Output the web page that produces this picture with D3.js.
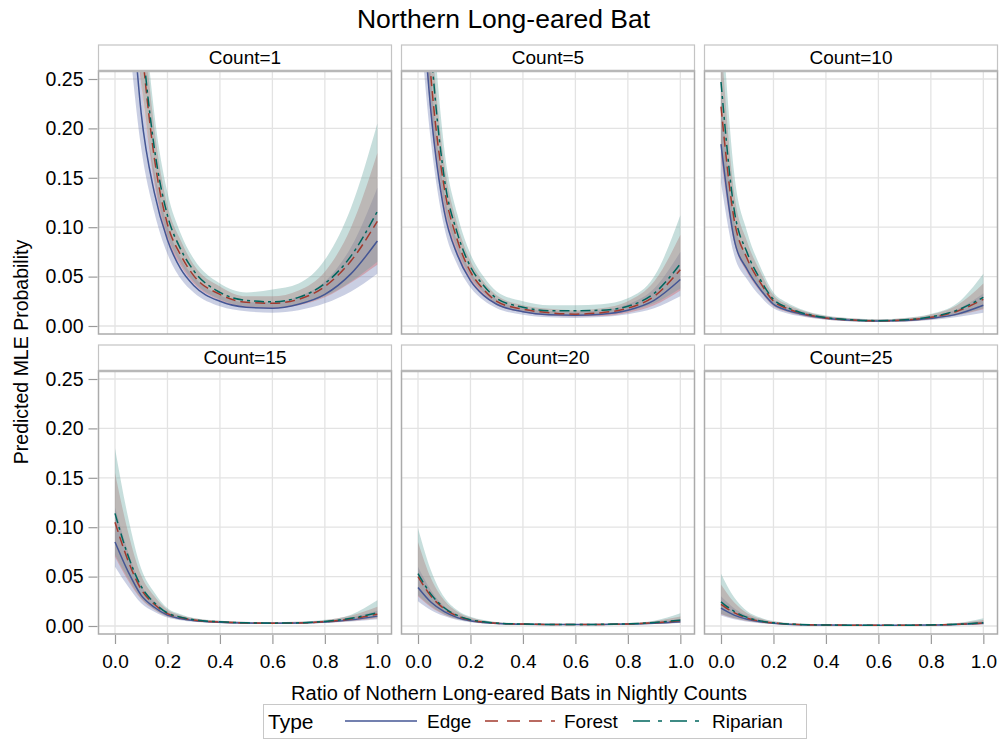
<!DOCTYPE html>
<html><head><meta charset="utf-8">
<script src="https://cdn.jsdelivr.net/npm/d3@7"></script>
<style>
html,body{margin:0;padding:0;background:#fff;}
svg{display:block;font-family:"Liberation Sans",Arial,sans-serif;}
</style></head>
<body><svg id="chart" width="1000" height="739"></svg>
<script>
// ---------------- data ----------------
const xVals = [0, 0.05, 0.1, 0.15, 0.2, 0.25, 0.3, 0.4, 0.5, 0.6, 0.7, 0.8, 0.9, 1.0];
const panelLabels = ["Count=1", "Count=5", "Count=10", "Count=15", "Count=20", "Count=25"];
const typeNames = ["Edge", "Forest", "Riparian"];
const xTicks = [0, 0.2, 0.4, 0.6, 0.8, 1.0];
const yTicks = [0, 0.05, 0.10, 0.15, 0.20, 0.25];

// predicted probability, one row per panel
const edgeFit = [
  [0.58, 0.38, 0.215, 0.135, 0.087, 0.058, 0.041, 0.025, 0.019, 0.018, 0.022, 0.032, 0.053, 0.086],
  [0.39, 0.215, 0.116, 0.072, 0.046, 0.031, 0.022, 0.0145, 0.0115, 0.011, 0.012, 0.016, 0.026, 0.047],
  [0.184, 0.088, 0.057, 0.037, 0.022, 0.016, 0.0125, 0.0078, 0.0058, 0.005, 0.0055, 0.0078, 0.012, 0.021],
  [0.085, 0.055, 0.031, 0.019, 0.011, 0.0075, 0.0055, 0.0038, 0.003, 0.0027, 0.003, 0.004, 0.0062, 0.010],
  [0.039, 0.024, 0.0145, 0.0085, 0.0052, 0.0035, 0.0025, 0.0018, 0.0015, 0.0014, 0.0015, 0.0019, 0.0028, 0.0044],
  [0.018, 0.011, 0.0068, 0.0042, 0.0027, 0.0018, 0.0013, 0.0009, 0.0007, 0.0007, 0.0007, 0.0009, 0.0015, 0.0027]
];
const forestFit = [
  [0.70, 0.46, 0.29, 0.17, 0.103, 0.072, 0.051, 0.032, 0.024, 0.023, 0.027, 0.040, 0.066, 0.106],
  [0.45, 0.25, 0.14, 0.087, 0.055, 0.037, 0.025, 0.017, 0.0135, 0.012, 0.0135, 0.018, 0.030, 0.057],
  [0.222, 0.108, 0.068, 0.044, 0.025, 0.018, 0.0135, 0.0082, 0.006, 0.0052, 0.006, 0.0088, 0.015, 0.027],
  [0.105, 0.066, 0.037, 0.022, 0.0125, 0.0085, 0.006, 0.004, 0.0031, 0.0028, 0.0031, 0.0043, 0.0072, 0.012],
  [0.050, 0.030, 0.0175, 0.010, 0.006, 0.004, 0.0028, 0.0019, 0.0016, 0.0015, 0.0016, 0.0021, 0.0032, 0.0054],
  [0.022, 0.0135, 0.008, 0.0048, 0.003, 0.002, 0.0014, 0.001, 0.0008, 0.0007, 0.0008, 0.001, 0.0017, 0.003]
];
const riparianFit = [
  [0.72, 0.48, 0.30, 0.18, 0.112, 0.078, 0.056, 0.034, 0.026, 0.0245, 0.029, 0.043, 0.071, 0.116],
  [0.50, 0.28, 0.15, 0.094, 0.060, 0.041, 0.028, 0.019, 0.0155, 0.0155, 0.016, 0.020, 0.033, 0.063],
  [0.247, 0.118, 0.074, 0.047, 0.027, 0.019, 0.014, 0.0085, 0.0062, 0.0054, 0.0062, 0.0092, 0.016, 0.029],
  [0.114, 0.071, 0.040, 0.0235, 0.0132, 0.009, 0.0063, 0.0042, 0.0032, 0.0029, 0.0032, 0.0046, 0.0078, 0.0135],
  [0.053, 0.032, 0.0185, 0.0107, 0.0064, 0.0042, 0.0029, 0.002, 0.0016, 0.0015, 0.0017, 0.0022, 0.0035, 0.006],
  [0.0245, 0.0148, 0.0087, 0.0052, 0.0032, 0.0021, 0.0015, 0.001, 0.0008, 0.0008, 0.0008, 0.0011, 0.0018, 0.0033]
];
// confidence bands
const edgeLower = [
  [0.45, 0.30, 0.18, 0.115, 0.073, 0.048, 0.034, 0.020, 0.015, 0.0135, 0.016, 0.023, 0.035, 0.053],
  [0.33, 0.185, 0.10, 0.062, 0.039, 0.026, 0.018, 0.0115, 0.0088, 0.0082, 0.009, 0.012, 0.018, 0.030],
  [0.145, 0.072, 0.047, 0.030, 0.018, 0.013, 0.010, 0.0063, 0.0046, 0.004, 0.0043, 0.006, 0.009, 0.0135],
  [0.06, 0.040, 0.023, 0.0145, 0.0085, 0.0058, 0.0042, 0.0029, 0.0023, 0.0021, 0.0023, 0.003, 0.0045, 0.0068],
  [0.025, 0.016, 0.010, 0.006, 0.0038, 0.0026, 0.0019, 0.0014, 0.0011, 0.001, 0.0011, 0.0014, 0.002, 0.003],
  [0.0105, 0.0068, 0.0044, 0.0029, 0.0019, 0.0013, 0.0009, 0.0006, 0.0005, 0.0005, 0.0005, 0.0006, 0.001, 0.0016]
];
const edgeUpper = [
  [0.70, 0.46, 0.25, 0.157, 0.102, 0.069, 0.050, 0.031, 0.024, 0.024, 0.030, 0.045, 0.080, 0.14],
  [0.46, 0.25, 0.135, 0.085, 0.055, 0.038, 0.027, 0.018, 0.015, 0.0145, 0.016, 0.022, 0.038, 0.075],
  [0.235, 0.108, 0.069, 0.045, 0.027, 0.0195, 0.0152, 0.0095, 0.0072, 0.0063, 0.0071, 0.0102, 0.017, 0.033],
  [0.12, 0.075, 0.041, 0.025, 0.0142, 0.0097, 0.0072, 0.0050, 0.0040, 0.0036, 0.0040, 0.0054, 0.0088, 0.0155],
  [0.06, 0.036, 0.020, 0.012, 0.007, 0.0047, 0.0033, 0.0024, 0.002, 0.0019, 0.002, 0.0026, 0.0041, 0.0072],
  [0.03, 0.018, 0.0105, 0.0062, 0.0038, 0.0025, 0.0018, 0.0013, 0.001, 0.001, 0.001, 0.0013, 0.0023, 0.0045]
];
const forestLower = [
  [0.55, 0.37, 0.245, 0.145, 0.087, 0.061, 0.043, 0.026, 0.019, 0.018, 0.021, 0.029, 0.044, 0.062],
  [0.38, 0.21, 0.118, 0.073, 0.046, 0.031, 0.021, 0.014, 0.0105, 0.0095, 0.010, 0.0135, 0.021, 0.036],
  [0.17, 0.085, 0.054, 0.035, 0.020, 0.0145, 0.011, 0.0066, 0.0048, 0.0041, 0.0046, 0.0067, 0.0108, 0.017],
  [0.07, 0.046, 0.027, 0.0165, 0.0095, 0.0065, 0.0046, 0.0031, 0.0024, 0.0022, 0.0024, 0.0032, 0.005, 0.0078],
  [0.030, 0.019, 0.0115, 0.007, 0.0043, 0.0029, 0.002, 0.0015, 0.0012, 0.0011, 0.0012, 0.0015, 0.0022, 0.0034],
  [0.012, 0.0078, 0.005, 0.0032, 0.0021, 0.0014, 0.001, 0.0007, 0.0006, 0.0005, 0.0006, 0.0007, 0.0011, 0.0018]
];
const forestUpper = [
  [0.85, 0.56, 0.34, 0.20, 0.122, 0.087, 0.062, 0.040, 0.030, 0.030, 0.036, 0.055, 0.10, 0.175],
  [0.54, 0.30, 0.165, 0.103, 0.066, 0.045, 0.031, 0.021, 0.0175, 0.016, 0.018, 0.025, 0.045, 0.092],
  [0.29, 0.135, 0.085, 0.055, 0.031, 0.022, 0.0165, 0.010, 0.0075, 0.0066, 0.0078, 0.0116, 0.021, 0.043],
  [0.155, 0.095, 0.051, 0.030, 0.0165, 0.011, 0.0078, 0.0052, 0.0041, 0.0037, 0.0042, 0.0059, 0.0105, 0.0195],
  [0.085, 0.048, 0.026, 0.0145, 0.0085, 0.0055, 0.0038, 0.0026, 0.0021, 0.002, 0.0022, 0.0029, 0.0048, 0.0095],
  [0.042, 0.024, 0.013, 0.0075, 0.0045, 0.0029, 0.002, 0.0014, 0.0011, 0.001, 0.0011, 0.0015, 0.0027, 0.006]
];
const riparianLower = [
  [0.55, 0.38, 0.25, 0.15, 0.092, 0.064, 0.045, 0.027, 0.020, 0.019, 0.022, 0.030, 0.045, 0.065],
  [0.40, 0.225, 0.125, 0.078, 0.050, 0.034, 0.023, 0.0155, 0.012, 0.0115, 0.012, 0.015, 0.023, 0.038],
  [0.18, 0.09, 0.057, 0.037, 0.021, 0.015, 0.0113, 0.0068, 0.0049, 0.0042, 0.0047, 0.0069, 0.011, 0.018],
  [0.072, 0.048, 0.028, 0.017, 0.0098, 0.0067, 0.0047, 0.0032, 0.0025, 0.0022, 0.0025, 0.0034, 0.0054, 0.0085],
  [0.031, 0.020, 0.012, 0.0072, 0.0044, 0.003, 0.0021, 0.0015, 0.0012, 0.0011, 0.0012, 0.0016, 0.0023, 0.0036],
  [0.0125, 0.008, 0.0052, 0.0033, 0.0022, 0.0015, 0.001, 0.0007, 0.0006, 0.0005, 0.0006, 0.0008, 0.0012, 0.0019]
];
const riparianUpper = [
  [0.88, 0.59, 0.36, 0.215, 0.135, 0.094, 0.068, 0.043, 0.034, 0.037, 0.043, 0.067, 0.12, 0.205],
  [0.60, 0.34, 0.18, 0.113, 0.073, 0.050, 0.035, 0.025, 0.021, 0.021, 0.022, 0.028, 0.05, 0.112],
  [0.33, 0.155, 0.095, 0.06, 0.034, 0.024, 0.0175, 0.0106, 0.0079, 0.0069, 0.0082, 0.0122, 0.023, 0.053],
  [0.18, 0.11, 0.058, 0.034, 0.018, 0.012, 0.0082, 0.0054, 0.0042, 0.0038, 0.0043, 0.0062, 0.0115, 0.026],
  [0.099, 0.056, 0.029, 0.016, 0.0093, 0.006, 0.004, 0.0027, 0.0022, 0.0021, 0.0023, 0.0031, 0.0054, 0.0128],
  [0.053, 0.029, 0.015, 0.0085, 0.005, 0.0032, 0.0022, 0.0015, 0.0012, 0.0011, 0.0012, 0.0016, 0.003, 0.0078]
];

// ---------------- styling ----------------
const lineColors = {Edge: "#445694", Forest: "#A23A2E", Riparian: "#01665E"};
const bandColors = {Edge: "#6F7EB3", Forest: "#D05B5B", Riparian: "#66A5A0"};
const dashes = {Edge: null, Forest: "10,5", Riparian: "10,4,3,4"};
const fits = {Edge: edgeFit, Forest: forestFit, Riparian: riparianFit};
const lows = {Edge: edgeLower, Forest: forestLower, Riparian: riparianLower};
const highs = {Edge: edgeUpper, Forest: forestUpper, Riparian: riparianUpper};

const svg = d3.select("#chart");
const FONT = '"Liberation Sans",Arial,sans-serif';

const colLeft = [98.5, 401.5, 704.5];
const rowTop = [71, 371];
const pw = 293, ph = 263, headerH = 26;

// title
svg.append("text").attr("x", 503.5).attr("y", 28).attr("text-anchor", "middle")
  .style("font-size", "26.5px").attr("fill", "#000").text("Northern Long-eared Bat");

const defs = svg.append("defs");

panelLabels.forEach((lab, i) => {
  const c = i % 3, r = Math.floor(i / 3);
  const L = colLeft[c], T = rowTop[r];
  const x = d3.scaleLinear().domain([-0.0629, 1.054]).range([L, L + pw]);
  const y = d3.scaleLinear().domain([-0.0081, 0.2581]).range([T + ph, T]);

  defs.append("clipPath").attr("id", "clip" + i)
    .append("rect").attr("x", L).attr("y", T).attr("width", pw).attr("height", ph);

  const g = svg.append("g");
  // header
  g.append("rect").attr("x", L).attr("y", T - headerH).attr("width", pw).attr("height", headerH)
    .attr("fill", "#fff").attr("stroke", "#C4C4C4").attr("stroke-width", 1.2);
  g.append("text").attr("x", L + pw / 2).attr("y", T - 7).attr("text-anchor", "middle")
    .style("font-size", "19px").attr("fill", "#000").text(lab);

  // grid
  g.selectAll(".gx").data(xTicks).enter().append("line")
    .attr("x1", d => x(d)).attr("x2", d => x(d)).attr("y1", T).attr("y2", T + ph)
    .attr("stroke", "#E3E3E3").attr("stroke-width", 1.3);
  g.selectAll(".gy").data(yTicks).enter().append("line")
    .attr("x1", L).attr("x2", L + pw).attr("y1", d => y(d)).attr("y2", d => y(d))
    .attr("stroke", "#E3E3E3").attr("stroke-width", 1.3);

  const plot = g.append("g").attr("clip-path", "url(#clip" + i + ")");
  // bands
  typeNames.forEach(t => {
    const pts = xVals.map((xv, k) => ({x: xv, lo: lows[t][i][k], hi: highs[t][i][k]}));
    const area = d3.area().x(d => x(d.x)).y0(d => y(d.lo)).y1(d => y(d.hi)).curve(d3.curveMonotoneX);
    plot.append("path").attr("d", area(pts)).attr("fill", bandColors[t]).attr("fill-opacity", 0.37)
      .attr("stroke", "none");
  });
  // lines
  typeNames.forEach(t => {
    const pts = xVals.map((xv, k) => ({x: xv, v: fits[t][i][k]}));
    const line = d3.line().x(d => x(d.x)).y(d => y(d.v)).curve(d3.curveMonotoneX);
    const p = plot.append("path").attr("d", line(pts)).attr("fill", "none")
      .attr("stroke", lineColors[t]).attr("stroke-width", 1.5);
    if (dashes[t]) p.attr("stroke-dasharray", dashes[t]);
  });

  // border
  g.append("rect").attr("x", L).attr("y", T).attr("width", pw).attr("height", ph)
    .attr("fill", "none").attr("stroke", "#ABABAB").attr("stroke-width", 1.5);
  g.append("line").attr("x1", L).attr("x2", L + pw).attr("y1", T).attr("y2", T)
    .attr("stroke", "#B8B8B8").attr("stroke-width", 2.5);

  // y axis on left column
  if (c === 0) {
    const ya = d3.axisLeft(y).tickValues(yTicks).tickFormat(d3.format(".2f")).tickSize(9).tickPadding(5);
    const ag = svg.append("g").attr("transform", `translate(${L - 1},0)`).call(ya);
    ag.select(".domain").remove();
    ag.selectAll(".tick line").attr("stroke", "#9A9A9A").attr("stroke-width", 1.2);
    ag.selectAll(".tick text").style("font-family", FONT).style("font-size", "19.5px").attr("fill", "#000");
  }
  // x axis on bottom row
  if (r === 1) {
    const xa = d3.axisBottom(x).tickValues(xTicks).tickFormat(d3.format(".1f")).tickSize(9).tickPadding(11);
    const ag = svg.append("g").attr("transform", `translate(0,${T + ph + 1})`).call(xa);
    ag.select(".domain").remove();
    ag.selectAll(".tick line").attr("stroke", "#9A9A9A").attr("stroke-width", 1.2);
    ag.selectAll(".tick text").style("font-family", FONT).style("font-size", "19px").attr("fill", "#000");
  }
});

// axis labels
svg.append("text").attr("transform", "translate(28,352) rotate(-90)").attr("text-anchor", "middle")
  .style("font-size", "19.5px").attr("fill", "#000").text("Predicted MLE Probability");
svg.append("text").attr("x", 519).attr("y", 700).attr("text-anchor", "middle")
  .style("font-size", "20px").attr("fill", "#000").text("Ratio of Nothern Long-eared Bats in Nightly Counts");

// legend
const lg = svg.append("g");
lg.append("rect").attr("x", 263.5).attr("y", 704.5).attr("width", 543).attr("height", 34)
  .attr("fill", "#fff").attr("stroke", "#C8C8C8").attr("stroke-width", 1);
lg.append("text").attr("x", 268).attr("y", 729).style("font-size", "21px").attr("fill", "#000").text("Type");
const legX = [{t: "Edge", x1: 345, x2: 417, tx: 427}, {t: "Forest", x1: 485, x2: 555, tx: 564}, {t: "Riparian", x1: 633, x2: 703, tx: 712}];
legX.forEach(d => {
  const l = lg.append("line").attr("x1", d.x1).attr("x2", d.x2).attr("y1", 721).attr("y2", 721)
    .attr("stroke", lineColors[d.t]).attr("stroke-width", 1.6);
  if (dashes[d.t]) l.attr("stroke-dasharray", d.t === "Forest" ? "13,9" : "17,8,4,8");
  lg.append("text").attr("x", d.tx).attr("y", 728).style("font-size", "19px").attr("fill", "#000").text(d.t);
});
</script></body></html>
